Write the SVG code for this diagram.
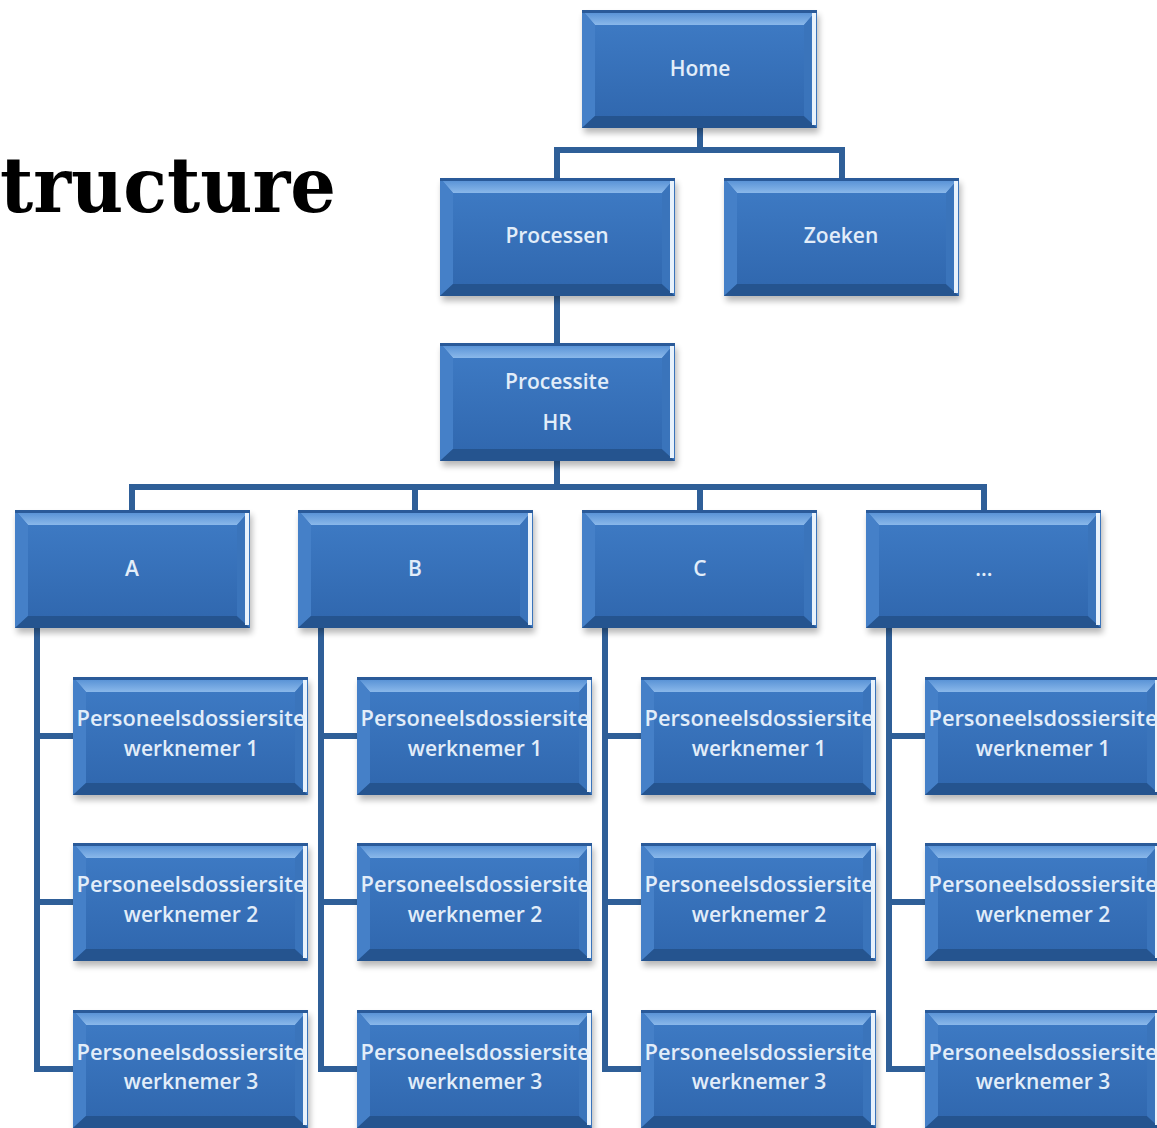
<svg xmlns="http://www.w3.org/2000/svg" xmlns:xlink="http://www.w3.org/1999/xlink" width="1157" height="1128" viewBox="0 0 1157 1128">
<defs>
<linearGradient id="face" x1="0" y1="0" x2="0" y2="1">
<stop offset="0" stop-color="#3f7cc6"/>
<stop offset="1" stop-color="#2f66ad"/>
</linearGradient>
<linearGradient id="topb" x1="0" y1="0" x2="0" y2="1">
<stop offset="0" stop-color="#4f8bd2"/>
<stop offset="1" stop-color="#8ab8ea"/>
</linearGradient>
<filter id="sh" x="-10%" y="-10%" width="120%" height="130%">
<feGaussianBlur stdDeviation="3"/>
</filter>
<symbol id="box" viewBox="0 0 235 118" width="235" height="118" overflow="visible">
<rect x="2" y="5" width="235" height="118" fill="#000" opacity="0.28" filter="url(#sh)"/>
<rect x="0" y="0" width="235" height="118" fill="url(#face)"/>
<polygon points="0,0 235,0 222,15 13,15" fill="url(#topb)"/>
<polygon points="0,0 13,15 13,106 0,118" fill="#4580c8"/>
<polygon points="0,118 13,106 222,106 235,118" fill="#25548f"/>
<polygon points="235,0 222,15 222,106 235,118" fill="#3a74bb"/>
<rect x="230" y="3" width="4" height="112" fill="#e8f2fc"/>
<rect x="0" y="0" width="235" height="3" fill="#2a5a99"/>
</symbol>
<style>
.t{font-family:"Open Sans","Noto Sans","DejaVu Sans",sans-serif;font-size:21px;font-weight:600;fill:#e2edf9;text-anchor:middle}
.c{fill:none;stroke:#2f5f98;stroke-width:6;stroke-linecap:square;stroke-linejoin:miter}
.title{font-family:"DejaVu Serif","Liberation Serif",serif;font-weight:bold;font-size:76px;fill:#000}
</style>
</defs>
<rect width="1157" height="1128" fill="#fff"/>
<text class="title" x="0" y="212" textLength="336" lengthAdjust="spacingAndGlyphs">tructure</text>
<g id="connectors">
<path class="c" d="M700 127 V150 M557 150 H842 M557 150 V178 M842 150 V178"/>
<path class="c" d="M557 295 V343"/>
<path class="c" d="M557 460 V487 M132 487 H984 M132 487 V510 M415 487 V510 M700 487 V510 M984 487 V510"/>
<path class="c" d="M37 628 V1069 H73 M37 736 H73 M37 902 H73"/>
<path class="c" d="M321 628 V1069 H357 M321 736 H357 M321 902 H357"/>
<path class="c" d="M605 628 V1069 H641 M605 736 H641 M605 902 H641"/>
<path class="c" d="M889 628 V1069 H925 M889 736 H925 M889 902 H925"/>
</g>
<g id="home"><use xlink:href="#box" x="582" y="10"/><text class="t" x="700" y="76">Home</text></g>
<g id="processen"><use xlink:href="#box" x="440" y="178"/><text class="t" x="557" y="243">Processen</text></g>
<g id="zoeken"><use xlink:href="#box" x="724" y="178"/><text class="t" x="841" y="243">Zoeken</text></g>
<g id="processite"><use xlink:href="#box" x="440" y="343"/><text class="t" x="557" y="389">Processite</text><text class="t" x="557" y="430">HR</text></g>
<g id="a"><use xlink:href="#box" x="15" y="510"/><text class="t" x="132" y="576">A</text></g>
<g id="b"><use xlink:href="#box" x="298" y="510"/><text class="t" x="415" y="576">B</text></g>
<g id="c"><use xlink:href="#box" x="582" y="510"/><text class="t" x="700" y="576">C</text></g>
<g id="d"><use xlink:href="#box" x="866" y="510"/><text class="t" x="984" y="576">...</text></g>
<g id="a1"><use xlink:href="#box" x="73" y="677"/><text class="t" x="191" y="726" textLength="229" lengthAdjust="spacingAndGlyphs">Personeelsdossiersite</text><text class="t" x="191" y="756">werknemer 1</text></g>
<g id="a2"><use xlink:href="#box" x="73" y="843"/><text class="t" x="191" y="892" textLength="229" lengthAdjust="spacingAndGlyphs">Personeelsdossiersite</text><text class="t" x="191" y="922">werknemer 2</text></g>
<g id="a3"><use xlink:href="#box" x="73" y="1010"/><text class="t" x="191" y="1060" textLength="229" lengthAdjust="spacingAndGlyphs">Personeelsdossiersite</text><text class="t" x="191" y="1089">werknemer 3</text></g>
<g id="b1"><use xlink:href="#box" x="357" y="677"/><text class="t" x="475" y="726" textLength="229" lengthAdjust="spacingAndGlyphs">Personeelsdossiersite</text><text class="t" x="475" y="756">werknemer 1</text></g>
<g id="b2"><use xlink:href="#box" x="357" y="843"/><text class="t" x="475" y="892" textLength="229" lengthAdjust="spacingAndGlyphs">Personeelsdossiersite</text><text class="t" x="475" y="922">werknemer 2</text></g>
<g id="b3"><use xlink:href="#box" x="357" y="1010"/><text class="t" x="475" y="1060" textLength="229" lengthAdjust="spacingAndGlyphs">Personeelsdossiersite</text><text class="t" x="475" y="1089">werknemer 3</text></g>
<g id="c1"><use xlink:href="#box" x="641" y="677"/><text class="t" x="759" y="726" textLength="229" lengthAdjust="spacingAndGlyphs">Personeelsdossiersite</text><text class="t" x="759" y="756">werknemer 1</text></g>
<g id="c2"><use xlink:href="#box" x="641" y="843"/><text class="t" x="759" y="892" textLength="229" lengthAdjust="spacingAndGlyphs">Personeelsdossiersite</text><text class="t" x="759" y="922">werknemer 2</text></g>
<g id="c3"><use xlink:href="#box" x="641" y="1010"/><text class="t" x="759" y="1060" textLength="229" lengthAdjust="spacingAndGlyphs">Personeelsdossiersite</text><text class="t" x="759" y="1089">werknemer 3</text></g>
<g id="d1"><use xlink:href="#box" x="925" y="677"/><text class="t" x="1043" y="726" textLength="229" lengthAdjust="spacingAndGlyphs">Personeelsdossiersite</text><text class="t" x="1043" y="756">werknemer 1</text></g>
<g id="d2"><use xlink:href="#box" x="925" y="843"/><text class="t" x="1043" y="892" textLength="229" lengthAdjust="spacingAndGlyphs">Personeelsdossiersite</text><text class="t" x="1043" y="922">werknemer 2</text></g>
<g id="d3"><use xlink:href="#box" x="925" y="1010"/><text class="t" x="1043" y="1060" textLength="229" lengthAdjust="spacingAndGlyphs">Personeelsdossiersite</text><text class="t" x="1043" y="1089">werknemer 3</text></g>
</svg>
